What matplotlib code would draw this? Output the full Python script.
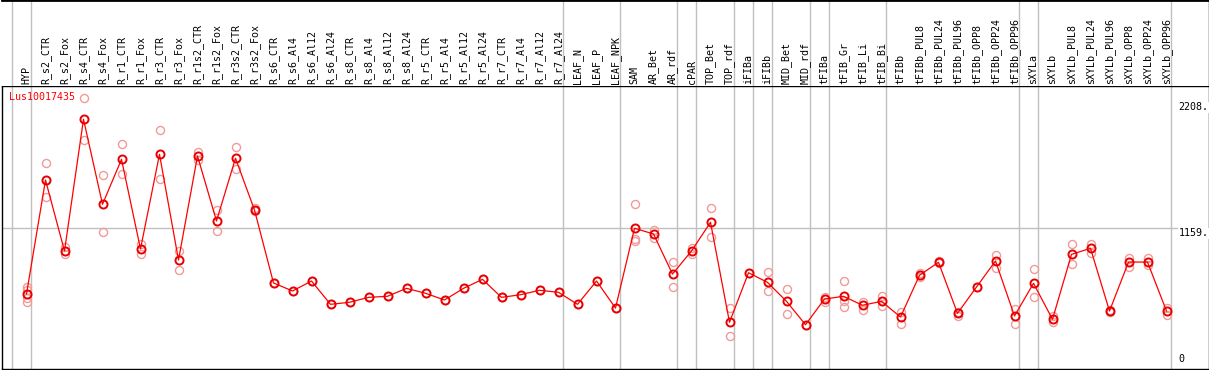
import matplotlib
matplotlib.use("Agg")
import matplotlib.pyplot as plt
import numpy as np

###################################################################################################

gene = "Lus10017435"

samples = ["HYP",
           "R_s2_CTR", "R_s2_Fox", "R_s4_CTR", "R_s4_Fox", "R_r1_CTR", "R_r1_Fox", "R_r3_CTR",
           "R_r3_Fox", "R_r1s2_CTR", "R_r1s2_Fox", "R_r3s2_CTR", "R_r3s2_Fox", "R_s6_CTR",
           "R_s6_Al4", "R_s6_Al12", "R_s6_Al24", "R_s8_CTR", "R_s8_Al4", "R_s8_Al12", "R_s8_Al24",
           "R_r5_CTR", "R_r5_Al4", "R_r5_Al12", "R_r5_Al24", "R_r7_CTR", "R_r7_Al4", "R_r7_Al12",
           "R_r7_Al24",
           "LEAF_N", "LEAF_P", "LEAF_NPK",
           "SAM", "AR_Bet", "AR_rdf",
           "cPAR",
           "TOP_Bet", "TOP_rdf",
           "iFIBa",
           "iFIBb",
           "MID_Bet", "MID_rdf",
           "tFIBa",
           "tFIB_Gr", "tFIB_Li", "tFIB_Bi",
           "tFIBb", "tFIBb_PUL8", "tFIBb_PUL24", "tFIBb_PUL96", "tFIBb_OPP8", "tFIBb_OPP24",
           "tFIBb_OPP96",
           "sXYLa",
           "sXYLb", "sXYLb_PUL8", "sXYLb_PUL24", "sXYLb_PUL96", "sXYLb_OPP8", "sXYLb_OPP24",
           "sXYLb_OPP96"]

# number of samples in each tissue group (separated by grey lines)
group_sizes = [1, 28, 3, 3, 1, 2, 1, 1, 2, 1, 3, 7, 1, 7]

means = [612, 1561, 970, 2067, 1359, 1733, 987, 1775, 895, 1761, 1220, 1742, 1311, 704,
         637, 720, 526, 543, 584, 593, 659, 618, 562, 659, 734, 584, 606, 643, 626,
         526, 720, 495,
         1159, 1112, 778, 970, 1209, 376, 789, 709, 551, 356, 570, 593, 518, 551,
         420, 768, 876, 451, 670, 887, 429, 701, 401, 942, 992, 470, 878, 878, 470]

replicates = [
    [673, 645, 576, 543],
    [1700, 1417], [1006, 942], [2241, 1892], [1600, 1126], [1858, 1609], [1028, 945],
    [1975, 1567], [972, 809], [1797, 1728], [1311, 1134], [1833, 1650], [1330, 1306],
    [704], [637], [720], [526], [543], [584], [593], [659], [618], [562], [659], [734],
    [584], [606], [643], [626],
    [526], [720], [495],
    [1359, 1072, 1051], [1145, 1078], [876, 668],
    [992, 947],
    [1325, 1084], [493, 262],
    [789],
    [793, 634],
    [651, 448], [356],
    [589, 548],
    [718, 551, 501], [548, 481], [595, 512],
    [462, 362], [784, 753], [885, 868], [465, 429], [670], [937, 826], [487, 366],
    [818, 584],
    [429, 381], [1028, 859], [1031, 956], [478, 462], [914, 834], [909, 851], [498, 437],
]

ytick_values = [2208, 1159, 0]
ytick_labels = ["2208.", "1159.", "0"]

####################################################################################################

W, H = 1209, 370
GREY = "#c0c0c0"
FONT = "DejaVu Sans Mono"
FS = 7.2

fig = plt.figure(figsize=(W / 100, H / 100), dpi=100)

# pixel layout of the original picture
left_px, right_px = 1.5, 1208.5
head_px, bottom_px = 85.5, 369.0
ax = fig.add_axes([left_px / W, (H - bottom_px) / H,
                   (right_px - left_px) / W, (bottom_px - head_px) / H])
hx = fig.add_axes([left_px / W, (H - head_px) / H,
                   (right_px - left_px) / W, head_px / H], sharex=ax)

x = np.arange(len(samples))
step = 19.0  # px per sample
ax.set_xlim((left_px - 26.5) / step, (right_px - 26.5) / step)
ax.set_ylim(-12.5, 2348)

# separators between groups
bounds = np.concatenate([[-1], np.cumsum(group_sizes) - 1]) + 4 / step
for a in (ax, hx):
    for b in bounds:
        a.axvline(b, color=GREY, lw=1.0, zorder=1)

label_x = len(samples) - 1 + 0.63
ax.hlines(1159, ax.get_xlim()[0], label_x - 0.05, color=GREY, lw=1.0, zorder=1)

# replicates
for xi, reps in zip(x, replicates):
    ax.plot([xi] * len(reps), reps, ls="none", marker="o", ms=5.8, mfc="none",
            mec="#f09a9a", mew=1.0, zorder=2)

# mean profile
ax.plot(x, means, color="#ff0000", lw=0.9, zorder=3)
ax.plot(x, means, ls="none", marker="o", ms=5.8, mfc="none", mec="#e80000", mew=1.4, zorder=4)

ax.text(0.0065, 0.958, gene, transform=ax.transAxes, color="#ff0000", fontsize=FS,
        family=FONT, ha="left", va="center")

for v, lab in zip(ytick_values, ytick_labels):
    if v == 0:
        ax.annotate(lab, (label_x, v), xytext=(0, 3), textcoords="offset pixels",
                    fontsize=FS, family=FONT, ha="left", va="bottom")
    else:
        ax.text(label_x, v, lab, fontsize=FS, family=FONT, ha="left", va="top",
                bbox=dict(facecolor="white", edgecolor="none", pad=0.5))

# sample names in header
for xi, name in zip(x, samples):
    hx.text(xi, 2 / head_px, name, rotation=90, ha="center", va="bottom",
            fontsize=FS, family=FONT)

for a in (ax, hx):
    a.set_xticks([])
    a.set_yticks([])
    for s in a.spines.values():
        s.set_color("black")
        s.set_linewidth(1.0)
hx.set_ylim(0, 1)
hx.spines["left"].set_visible(False)
hx.spines["bottom"].set_visible(False)
hx.spines["top"].set_linewidth(2.0)

fig.savefig("out.png", dpi=100)
